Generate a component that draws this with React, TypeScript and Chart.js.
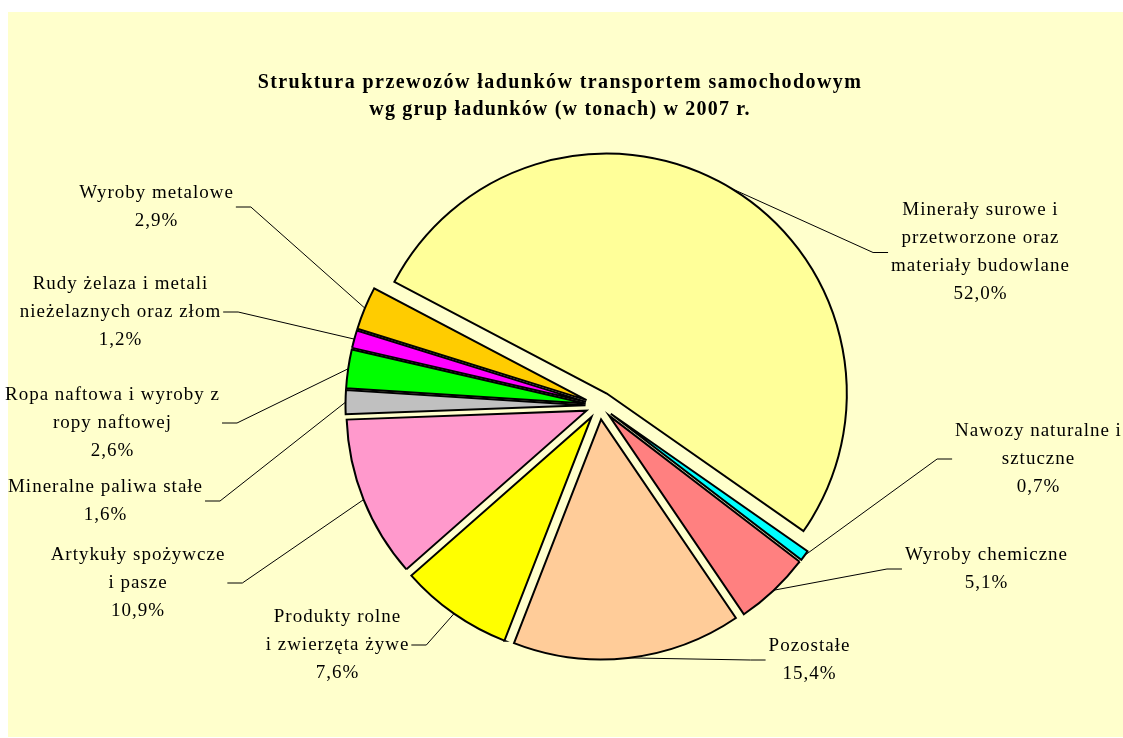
import React, { useEffect, useRef } from "react";
import { Chart, registerables } from "chart.js";

Chart.register(...registerables);

// ---------- data ----------
const categories: string[] = [
  "Minerały surowe i\nprzetworzone oraz\nmateriały budowlane",
  "Nawozy naturalne i\nsztuczne",
  "Wyroby chemiczne",
  "Pozostałe",
  "Produkty rolne\ni zwierzęta żywe",
  "Artykuły spożywcze\ni pasze",
  "Mineralne paliwa stałe",
  "Ropa naftowa i wyroby z\nropy naftowej",
  "Rudy żelaza i metali\nnieżelaznych oraz złom",
  "Wyroby metalowe",
];

const shares: number[] = [52.0, 0.7, 5.1, 15.4, 7.6, 10.9, 1.6, 2.6, 1.2, 2.9];

const sliceColors: string[] = [
  "#FFFF99",
  "#00FFFF",
  "#FF8080",
  "#FFCC99",
  "#FFFF00",
  "#FF99CC",
  "#C0C0C0",
  "#00FF00",
  "#FF00FF",
  "#FFCC00",
];

const titleLines: string[] = [
  "Struktura przewozów ładunków transportem samochodowym",
  "wg grup ładunków (w tonach) w 2007 r.",
];

// ---------- layout (positions / sizes / styles) ----------
const W = 1123;
const H = 738;
const PANEL = { x: 8, y: 12, w: 1115, h: 725 };
const PANEL_COLOR = "#FFFFCC";
const PIE_RADIUS = 240;
const EXPLODE = 14;
const ROTATION_DEG = 297.75;
const PADDING = { left: 176, right: 100, top: 173, bottom: 100 };
const FONT_FAMILY = "'Liberation Serif', 'Times New Roman', serif";
const LABEL_FONT = `19px ${FONT_FAMILY}`;
const TITLE_FONT = `bold 20px ${FONT_FAMILY}`;
const LINE_HEIGHT = 28;
const TITLE_X = 560;
const TITLE_BASELINES = [88, 115];
const TITLE_SPACING = ["1.43px", "1.2px"];
// label block centres (x, y), same order as categories
const labelCentersX: number[] = [980, 1038, 986, 809, 337, 137.5, 105, 112, 120, 156];
const labelCentersY: number[] = [252.5, 459, 569, 660, 645, 583, 501, 423, 312, 207];

const fmtPct = (v: number) => v.toFixed(1).replace(".", ",") + "%";

const bgPlugin = {
  id: "panelBackground",
  beforeDraw(chart: any) {
    const { ctx, width, height } = chart;
    ctx.save();
    ctx.fillStyle = "#FFFFFF";
    ctx.fillRect(0, 0, width, height);
    ctx.fillStyle = PANEL_COLOR;
    ctx.fillRect(PANEL.x, PANEL.y, PANEL.w, PANEL.h);
    ctx.restore();
  },
};

// explode every slice outward along its mid angle
const explodePlugin = {
  id: "explodeSlices",
  afterDatasetUpdate(chart: any, args: any) {
    const meta = chart.getDatasetMeta(args.index);
    meta.data.forEach((arc: any) => {
      const mid = (arc.startAngle + arc.endAngle) / 2;
      arc.x += Math.cos(mid) * EXPLODE;
      arc.y += Math.sin(mid) * EXPLODE;
    });
  },
};

const labelPlugin = {
  id: "sliceLabels",
  afterDraw(chart: any) {
    const { ctx } = chart;
    const meta = chart.getDatasetMeta(0);
    ctx.save();

    // title
    ctx.fillStyle = "#000";
    ctx.font = TITLE_FONT;
    ctx.textAlign = "center";
    ctx.textBaseline = "alphabetic";
    titleLines.forEach((t, i) => {
      (ctx as any).letterSpacing = TITLE_SPACING[i];
      ctx.fillText(t, TITLE_X, TITLE_BASELINES[i]);
    });

    // slice labels + leader lines
    ctx.font = LABEL_FONT;
    (ctx as any).letterSpacing = "1px";
    ctx.textBaseline = "middle";
    meta.data.forEach((arc: any, i: number) => {
      const lines = [...categories[i].split("\n"), fmtPct(shares[i])];
      const cx = labelCentersX[i];
      const cy = labelCentersY[i];
      const maxW = Math.max(...lines.map((l) => ctx.measureText(l).width)) - 1;
      const top = cy - ((lines.length - 1) * LINE_HEIGHT) / 2;
      ctx.fillStyle = "#000";
      ctx.textAlign = "center";
      lines.forEach((l, k) => ctx.fillText(l, cx + 0.5, top + k * LINE_HEIGHT));

      const mid = (arc.startAngle + arc.endAngle) / 2;
      const px = arc.x + Math.cos(mid) * arc.outerRadius;
      const py = arc.y + Math.sin(mid) * arc.outerRadius;
      const rightSide = cx > px;
      const endX = rightSide ? cx - maxW / 2 - 3 : cx + maxW / 2 + 3;
      const elbowX = rightSide ? endX - 15 : endX + 15;
      ctx.beginPath();
      ctx.strokeStyle = "#000";
      ctx.lineWidth = 1;
      ctx.moveTo(px, py);
      ctx.lineTo(elbowX, cy);
      ctx.lineTo(endX, cy);
      ctx.stroke();
    });
    ctx.restore();
  },
};

export default function App() {
  const canvasRef = useRef<HTMLCanvasElement | null>(null);

  useEffect(() => {
    document.body.style.margin = "0";
    const canvas = canvasRef.current;
    if (!canvas) return;
    const chart = new Chart(canvas, {
      type: "pie",
      data: {
        labels: categories.map((c) => c.replace(/\n/g, " ")),
        datasets: [
          {
            data: shares,
            backgroundColor: sliceColors,
            borderColor: "#000000",
            borderWidth: 2,
            borderJoinStyle: "miter",
            radius: PIE_RADIUS,
          } as any,
        ],
      },
      options: {
        responsive: false,
        animation: false,
        devicePixelRatio: 1,
        rotation: ROTATION_DEG,
        layout: { padding: PADDING },
        plugins: {
          legend: { display: false },
          tooltip: { enabled: false },
          title: { display: false },
        },
        events: [],
      } as any,
      plugins: [bgPlugin, explodePlugin, labelPlugin],
    });
    return () => chart.destroy();
  }, []);

  return (
    <div style={{ width: W, height: H, position: "relative" }}>
      <canvas ref={canvasRef} width={W} height={H} style={{ display: "block" }} />
    </div>
  );
}
